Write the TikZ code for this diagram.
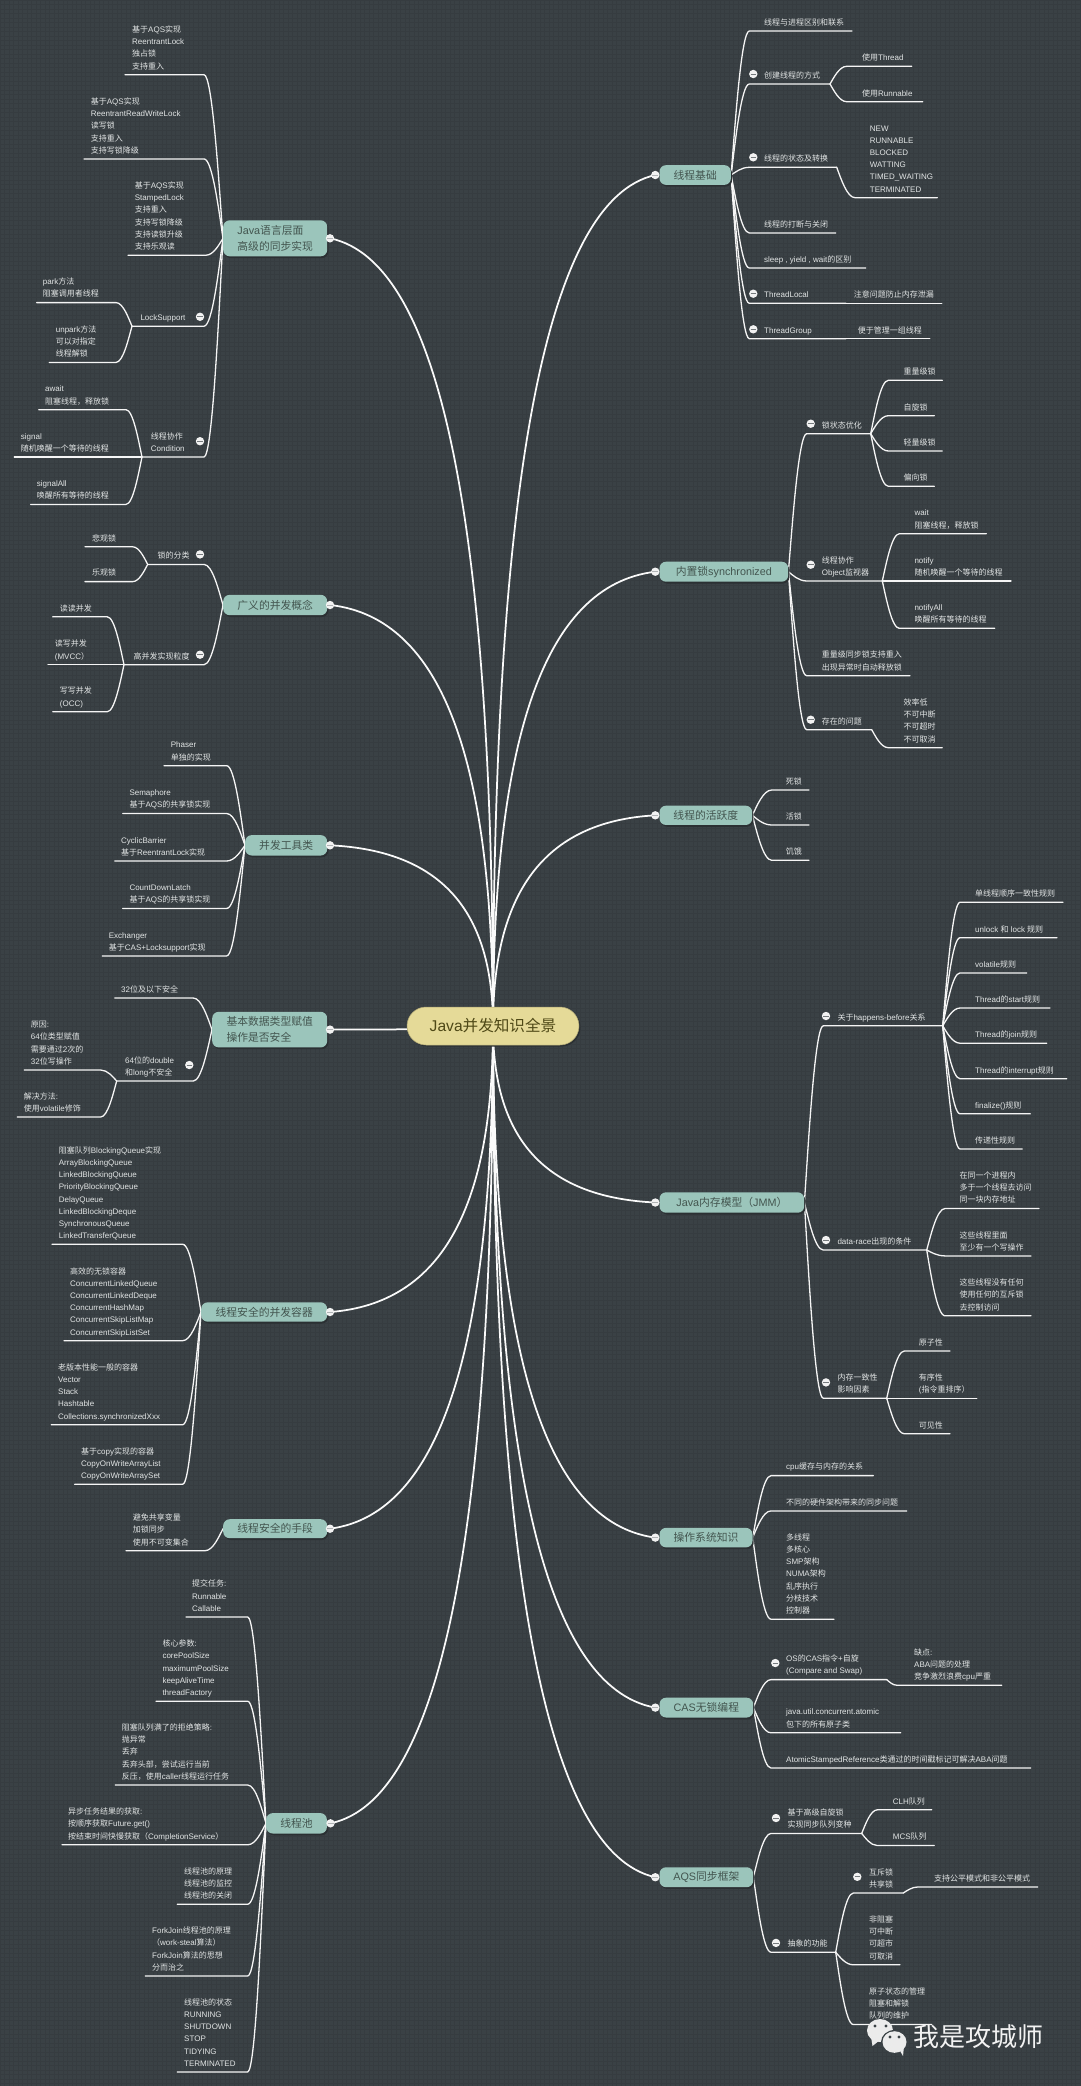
\documentclass[tikz,border=0pt]{standalone}
\usepackage{fontspec}
\setmainfont{Liberation Sans}
\newfontfamily\zzcjk{Noto Sans CJK SC}
\usetikzlibrary{calc,shadows}
\pgfdeclarelayer{gridlayer}
\pgfdeclarelayer{conn}
\pgfsetlayers{gridlayer,conn,main}
\definecolor{bgc}{HTML}{3A4145}
\definecolor{gridc}{HTML}{363C40}
\definecolor{tealc}{HTML}{9BC5BB}
\definecolor{tealt}{HTML}{43554F}
\definecolor{rootc}{HTML}{E5DA98}
\definecolor{roott}{HTML}{4E4816}
\definecolor{labelc}{HTML}{E2E5E5}
\definecolor{shadc}{HTML}{2B3033}
% text helper: CJK characters in the CJK font, others in Liberation Sans; | breaks line, ~ is a space
\def\zzend{\zzend}
\def\zzloop#1{%
  \ifx#1\zzend\let\zznext\relax
  \else\ifx#1|\def\zznext{\\\zzloop}%
  \else\ifx#1~\def\zznext{\space\zzloop}%
  \else\ifnum`#1>"2E7F {\zzcjk #1}\else #1\fi\let\zznext\zzloop
  \fi\fi\fi\zznext}
\newcommand{\zz}[1]{\zzloop#1\zzend}
\tikzset{
  txt/.style={text=labelc,inner sep=0pt,align=left,anchor=south west,font=\fontsize{8}{12.2}\selectfont},
  mainbox/.style={fill=tealc,text=tealt,rounded corners=6.5pt,inner sep=0pt,align=left,anchor=west,
    font=\fontsize{10.8}{16}\selectfont,general shadow={shadow xshift=1.2pt,shadow yshift=-1.8pt,fill=shadc}},
  rootbox/.style={fill=rootc,text=roott,rounded corners=19pt,inner sep=0pt,draw=rootc!75!black,line width=.5pt,
    minimum width=172pt,minimum height=38pt,font=\fontsize{15.6}{18}\selectfont,
    general shadow={shadow xshift=1.5pt,shadow yshift=-1.5pt,fill=shadc}},
  lnk/.style={draw=white!96!black,line width=1.3pt,line cap=round},
  rlnk/.style={draw=white!98!black,line width=1.75pt,line cap=round},
  hot/.style={circle,fill=white!95!black,inner sep=0pt,minimum size=8.4pt},
  hotbar/.style={draw=bgc!70!white,line width=.75pt},
  logo/.style={fill=white!92!black},
}
% \leaf{name}{parent}{bendx}{endx}{y}{textx}{label}
\newcommand{\leaf}[7]{%
  \coordinate (#1-b) at (#3,#5);
  \coordinate (#1-e) at (#4,#5);
  \node[txt] (#1) at (#6,#5-1.8) {\zz{#7}\strut};
  \begin{pgfonlayer}{conn}
  \draw[lnk] let \p1=(#2),\p2=(#1-b) in (\p1) .. controls ({\x1+0.22*(\x2-\x1)},{\y1+0.35*(\y2-\y1)}) and ({\x2-0.44*(\x2-\x1)},\y2) .. (\p2) -- (#1-e);
  \end{pgfonlayer}
}
% \stem: a branch that has a label and a collapse dot
\newcommand{\sdot}[3]{%
  \node[hot] (#1) at (#2,#3) {};
  \draw[hotbar] ($(#1.center)+(-2.8,0)$) -- ($(#1.center)+(2.8,0)$);
}
% \topic{name}{xl}{xr}{yc}{height}{dotx}{label}
\newcommand{\topic}[7]{%
  \node[mainbox,minimum width=#3pt-#2pt,minimum height=#5pt] (#1) at (#2,#4) {\zz{#7}};
  \node[hot] (#1-d) at (#6,#4) {};
  \draw[hotbar,draw=bgc!40!white] ($(#1-d.center)+(-3,0)$) -- ($(#1-d.center)+(3,0)$);
  \begin{pgfonlayer}{conn}
  \draw[rlnk] let \p1=(root.center),\p2=(#1-d) in (\p1) .. controls (\x1,{\y1+0.62*(\y2-\y1)}) and ({\x1+0.3*(\x2-\x1)},{\y2-0.03*(\y2-\y1)}) .. (\p2);
  \end{pgfonlayer}
}
\begin{document}
\begin{tikzpicture}[x=1pt,y=-1pt]
\useasboundingbox (0,0) rectangle (1080,2086);
\begin{pgfonlayer}{gridlayer}
\fill[bgc] (0,0) rectangle (1080,2086);
\draw[gridc,line width=.45pt,step=4.5pt] (0,0) grid (1080,2086);
\end{pgfonlayer}

\node[rootbox] (root) at (493,1026) {\zz{Java并发知识全景}};

% ---------- left side ----------
\topic{A}{223}{327}{238.3}{36}{330}{Java语言层面|高级的同步实现}
\leaf{a1}{A.west}{204}{125}{74.7}{132}{基于AQS实现|ReentrantLock|独占锁|支持重入}
\leaf{a2}{A.west}{204}{84}{158.9}{90.7}{基于AQS实现|ReentrantReadWriteLock|读写锁|支持重入|支持写锁降级}
\leaf{a3}{A.west}{206}{128}{255.2}{134.7}{基于AQS实现|StampedLock|支持重入|支持写锁降级|支持读锁升级|支持乐观读}
\leaf{a4}{A.west}{204}{132}{326.2}{140.3}{LockSupport}
\sdot{a4d}{200}{316.8}
\leaf{a41}{a4-e}{116}{36.7}{302.6}{42.7}{park方法|阻塞调用者线程}
\leaf{a42}{a4-e}{116}{49.3}{362.4}{55.7}{unpark方法|可以对指定|线程解锁}
\leaf{a5}{A.west}{204}{142}{457}{150.7}{线程协作|Condition}
\sdot{a5d}{200}{441.2}
\leaf{a51}{a5-e}{126}{38.7}{409.7}{45}{await|阻塞线程，释放锁}
\leaf{a52}{a5-e}{126}{14.3}{457}{20.7}{signal|随机唤醒一个等待的线程}
\leaf{a53}{a5-e}{126}{30.7}{504.4}{36.7}{signalAll|唤醒所有等待的线程}

\topic{B}{223}{327}{605}{20.4}{330}{广义的并发概念}
\leaf{b1}{B.west}{204}{147.7}{564.4}{157.3}{锁的分类}
\sdot{b1d}{200}{554.4}
\leaf{b11}{b1-e}{132.7}{85}{546.8}{92}{悲观锁}
\leaf{b12}{b1-e}{132.7}{85}{581.6}{92}{乐观锁}
\leaf{b2}{B.west}{204}{124}{664.7}{133.3}{高并发实现粒度}
\sdot{b2d}{200}{654.7}
\leaf{b21}{b2-e}{107.3}{52.7}{616.8}{59.7}{读读并发}
\leaf{b22}{b2-e}{107.3}{48}{664.7}{54.7}{读写并发|(MVCC）}
\leaf{b23}{b2-e}{107.3}{52.7}{711.7}{59.7}{写写并发|(OCC)}

\topic{C}{245}{327}{845.3}{20.4}{330}{并发工具类}
\leaf{c1}{C.west}{226.7}{164}{765.7}{170.7}{Phaser|单独的实现}
\leaf{c2}{C.west}{226.7}{122.7}{813.5}{129.3}{Semaphore|基于AQS的共享锁实现}
\leaf{c3}{C.west}{226.7}{114.7}{861}{121}{CyclicBarrier|基于ReentrantLock实现}
\leaf{c4}{C.west}{226.7}{122.7}{908.4}{129.3}{CountDownLatch|基于AQS的共享锁实现}
\leaf{c5}{C.west}{226.7}{102.3}{955.9}{108.7}{Exchanger|基于CAS+Locksupport实现}

\topic{D}{212}{327}{1029.6}{35.6}{330}{基本数据类型赋值|操作是否安全}
\leaf{d1}{D.west}{193.3}{114.7}{998}{121}{32位及以下安全}
\leaf{d2}{D.west}{193.3}{116.7}{1081}{125}{64位的double|和long不安全}
\sdot{d2d}{189.3}{1065}
\leaf{d21}{d2-e}{100.7}{24.3}{1070}{30.7}{原因:|64位类型赋值|需要通过2次的|32位写操作}
\leaf{d22}{d2-e}{100.7}{17.3}{1117}{23.7}{解决方法:|使用volatile修饰}

\topic{E}{201}{327}{1312}{19.4}{330}{线程安全的并发容器}
\leaf{e1}{E.west}{182.7}{52}{1244.3}{58.7}{阻塞队列BlockingQueue实现|ArrayBlockingQueue|LinkedBlockingQueue|PriorityBlockingQueue|DelayQueue|LinkedBlockingDeque|SynchronousQueue|LinkedTransferQueue}
\leaf{e2}{E.west}{182.7}{64}{1340.7}{70}{高效的无锁容器|ConcurrentLinkedQueue|ConcurrentLinkedDeque|ConcurrentHashMap|ConcurrentSkipListMap|ConcurrentSkipListSet}
\leaf{e3}{E.west}{182.7}{51.3}{1424.7}{58}{老版本性能一般的容器|Vector|Stack|Hashtable|Collections.synchronizedXxx}
\leaf{e4}{E.west}{182.7}{74.7}{1484.3}{81}{基于copy实现的容器|CopyOnWriteArrayList|CopyOnWriteArraySet}

\topic{F}{223}{327}{1528.7}{19}{330}{线程安全的手段}
\leaf{f1}{F.west}{205}{126}{1550.7}{132.7}{避免共享变量|加锁同步|使用不可变集合}

\topic{G}{266}{326.7}{1823.3}{20.4}{330.5}{线程池}
\leaf{g1}{G.west}{247.7}{186}{1617}{192}{提交任务:|Runnable|Callable}
\leaf{g2}{G.west}{247.7}{156}{1701.2}{162.3}{核心参数:|corePoolSize|maximumPoolSize|keepAliveTime|threadFactory}
\leaf{g3}{G.west}{247.7}{115.3}{1785}{121.7}{阻塞队列满了的拒绝策略:|抛异常|丢弃|丢弃头部，尝试运行当前|反压，使用caller线程运行任务}
\leaf{g4}{G.west}{247.7}{62}{1844.8}{68}{异步任务结果的获取:|按顺序获取Future.get()|按结束时间快慢获取（CompletionService）}
\leaf{g5}{G.west}{247.7}{177.3}{1904.2}{184}{线程池的原理|线程池的监控|线程池的关闭}
\leaf{g6}{G.west}{247.7}{145.3}{1976}{152}{ForkJoin线程池的原理|（work-steal算法）|ForkJoin算法的思想|分而治之}
\leaf{g7}{G.west}{247.7}{177.3}{2071.9}{184}{线程池的状态|RUNNING|SHUTDOWN|STOP|TIDYING|TERMINATED}

% ---------- right side ----------
\topic{H}{659.3}{730.7}{175}{19.7}{655.3}{线程基础}
\leaf{h1}{H.east}{749.3}{852}{31}{764}{线程与进程区别和联系}
\leaf{h2}{H.east}{749.3}{830}{84}{764}{创建线程的方式}
\sdot{h2d}{753.3}{74}
\leaf{h21}{h2-e}{846.7}{911.7}{66.3}{862}{使用Thread}
\leaf{h22}{h2-e}{846.7}{922.7}{101.7}{862}{使用Runnable}
\leaf{h3}{H.east}{749.3}{836.7}{167.3}{764}{线程的状态及转换}
\sdot{h3d}{753.3}{157.3}
\leaf{h31}{h3-e}{855}{937.3}{197.7}{869.7}{NEW|RUNNABLE|BLOCKED|WATTING|TIMED\_WAITING|TERMINATED}
\leaf{h4}{H.east}{749.3}{835.7}{233}{764}{线程的打断与关闭}
\leaf{h5}{H.east}{749.3}{865.7}{268}{764}{sleep~,~yield~,~wait的区别}
\leaf{h6}{H.east}{749.3}{846}{303.3}{764}{ThreadLocal}
\sdot{h6d}{753.3}{293.7}
\leaf{h61}{h6-e}{850}{941.7}{303.3}{853.7}{注意问题防止内存泄漏}
\leaf{h7}{H.east}{749.3}{846}{338.7}{764}{ThreadGroup}
\sdot{h7d}{753.3}{329.3}
\leaf{h71}{h7-e}{850}{929.7}{338.7}{857.7}{便于管理一组线程}

\topic{I}{659.3}{788}{571.7}{20}{655.3}{内置锁synchronized}
\leaf{i1}{I.east}{806.7}{870.7}{433.7}{821.7}{锁状态优化}
\sdot{i1d}{810.7}{423.7}
\leaf{i11}{i1-e}{888.3}{942.3}{380.3}{903.3}{重量级锁}
\leaf{i12}{i1-e}{888.3}{934.3}{415.7}{903.3}{自旋锁}
\leaf{i13}{i1-e}{888.3}{942.3}{451}{903.3}{轻量级锁}
\leaf{i14}{i1-e}{888.3}{934.3}{486.3}{903.3}{偏向锁}
\leaf{i2}{I.east}{806.7}{882.3}{581}{821.7}{线程协作|Object监视器}
\sdot{i2d}{810.7}{564.7}
\leaf{i21}{i2-e}{899.3}{986.3}{533.7}{914.3}{wait|阻塞线程，释放锁}
\leaf{i22}{i2-e}{899.3}{1011}{581}{914.3}{notify|随机唤醒一个等待的线程}
\leaf{i23}{i2-e}{899.3}{994.7}{628.3}{914.3}{notifyAll|唤醒所有等待的线程}
\leaf{i3}{I.east}{806.7}{910}{675.7}{821.7}{重量级同步锁支持重入|出现异常时自动释放锁}
\leaf{i4}{I.east}{806.7}{871.7}{729.7}{821.7}{存在的问题}
\sdot{i4d}{810.7}{719.7}
\leaf{i41}{i4-e}{888.3}{942.3}{747.7}{903.3}{效率低|不可中断|不可超时|不可取消}

\topic{J}{659.3}{752}{815.3}{19.3}{655.3}{线程的活跃度}
\leaf{j1}{J.east}{771.7}{809}{790}{785.7}{死锁}
\leaf{j2}{J.east}{771.7}{809}{825}{785.7}{活锁}
\leaf{j3}{J.east}{771.7}{809}{860.3}{785.7}{饥饿}

\topic{K}{659.3}{804}{1202.5}{20.4}{655.3}{Java内存模型（JMM）}
\leaf{k1}{K.east}{823.3}{942.7}{1025.8}{837.3}{关于happens-before关系}
\sdot{k1d}{826}{1016}
\leaf{k11}{k1-e}{960}{1063}{902.2}{975}{单线程顺序一致性规则}
\leaf{k12}{k1-e}{960}{1057}{937.7}{975}{unlock~和~lock~规则}
\leaf{k13}{k1-e}{960}{1026.7}{972.9}{975}{volatile规则}
\leaf{k14}{k1-e}{960}{1050}{1008}{975}{Thread的start规则}
\leaf{k15}{k1-e}{960}{1046.7}{1043.2}{975}{Thread的join规则}
\leaf{k16}{k1-e}{960}{1066.7}{1078.7}{975}{Thread的interrupt规则}
\leaf{k17}{k1-e}{960}{1030.3}{1113.8}{975}{finalize()规则}
\leaf{k18}{k1-e}{960}{1022.3}{1149}{975}{传递性规则}
\leaf{k2}{K.east}{823.3}{926.7}{1250}{837.3}{data-race出现的条件}
\sdot{k2d}{826}{1240}
\leaf{k21}{k2-e}{945}{1039}{1208.5}{959.3}{在同一个进程内|多于一个线程去访问|同一块内存地址}
\leaf{k22}{k2-e}{945}{1031}{1255.9}{959.3}{这些线程里面|至少有一个写操作}
\leaf{k23}{k2-e}{945}{1031}{1315.8}{959.3}{这些线程没有任何|使用任何的互斥锁|去控制访问}
\leaf{k3}{K.east}{823.3}{886.7}{1398.3}{837.3}{内存一致性|影响因素}
\sdot{k3d}{826}{1382.4}
\leaf{k31}{k3-e}{904.3}{950}{1351}{918.7}{原子性}
\leaf{k32}{k3-e}{904.3}{976.7}{1398.3}{918.7}{有序性|(指令重排序）}
\leaf{k33}{k3-e}{904.3}{950}{1433.8}{918.7}{可见性}

\topic{L}{659.3}{752.3}{1537.6}{19.5}{655.3}{操作系统知识}
\leaf{l1}{L.east}{771}{873.3}{1475.6}{786}{cpu缓存与内存的关系}
\leaf{l2}{L.east}{771}{906.7}{1510.9}{786}{不同的硬件架构带来的同步问题}
\leaf{l3}{L.east}{771}{834}{1619.2}{786}{多线程|多核心|SMP架构|NUMA架构|乱序执行|分枝技术|控制器}

\topic{M}{659.3}{753}{1707.6}{19.8}{655.3}{CAS无锁编程}
\leaf{m1}{M.east}{771}{886.7}{1679.6}{786}{OS的CAS指令+自旋|(Compare~and~Swap)}
\sdot{m1d}{775.3}{1663}
\leaf{m11}{m1-e}{897.3}{1001.7}{1685.3}{914}{缺点:|ABA问题的处理|竞争激烈浪费cpu严重}
\leaf{m2}{M.east}{771}{900.7}{1732.8}{786}{java.util.concurrent.atomic|包下的所有原子类}
\leaf{m3}{M.east}{771}{1030.7}{1768}{786}{AtomicStampedReference类通过的时间戳标记可解决ABA问题}

\topic{N}{659.3}{753}{1877.2}{19.9}{655.3}{AQS同步框架}
\leaf{n1}{N.east}{771}{861.7}{1833.4}{787.3}{基于高级自旋锁|实现同步队列变种}
\sdot{n1d}{776}{1818}
\leaf{n11}{n1-e}{877.3}{931.7}{1809.8}{892.7}{CLH队列}
\leaf{n12}{n1-e}{877.3}{934.3}{1845.5}{892.7}{MCS队列}
\leaf{n2}{N.east}{771}{835.7}{1952.2}{787.3}{抽象的功能}
\sdot{n2d}{776}{1942.9}
\leaf{n21}{n2-e}{853.3}{903.3}{1893}{869}{互斥锁|共享锁}
\sdot{n21d}{857.3}{1876.8}
\leaf{n211}{n21-e}{918.3}{1037.7}{1886.9}{934}{支持公平模式和非公平模式}
\leaf{n22}{n2-e}{853.3}{900}{1964.8}{869}{非阻塞|可中断|可超市|可取消}
\leaf{n23}{n2-e}{853.3}{931.7}{2024.5}{869}{原子状态的管理|阻塞和解锁|队列的维护}

% ---------- watermark ----------
\fill[logo] (880,2030.5) ellipse [x radius=13,y radius=11.5];
\fill[logo] (871,2037) -- (872.5,2046) -- (880,2040) -- cycle;
\fill[bgc] (875,2026) circle (1.7) (886,2026) circle (1.7);
\fill[bgc] (894.5,2042) ellipse [x radius=13.5,y radius=12];
\fill[logo] (894.5,2042) ellipse [x radius=12,y radius=10.8];
\fill[logo] (899,2049) -- (903,2056) -- (904,2046) -- cycle;
\fill[bgc] (890,2037) circle (1.6) (899,2037) circle (1.6);
\node[inner sep=0pt,anchor=west,text=white!95!black,font=\zzcjk\fontsize{26}{30}\selectfont] (wm) at (913,2037) {我是攻城师};
\end{tikzpicture}
\end{document}
